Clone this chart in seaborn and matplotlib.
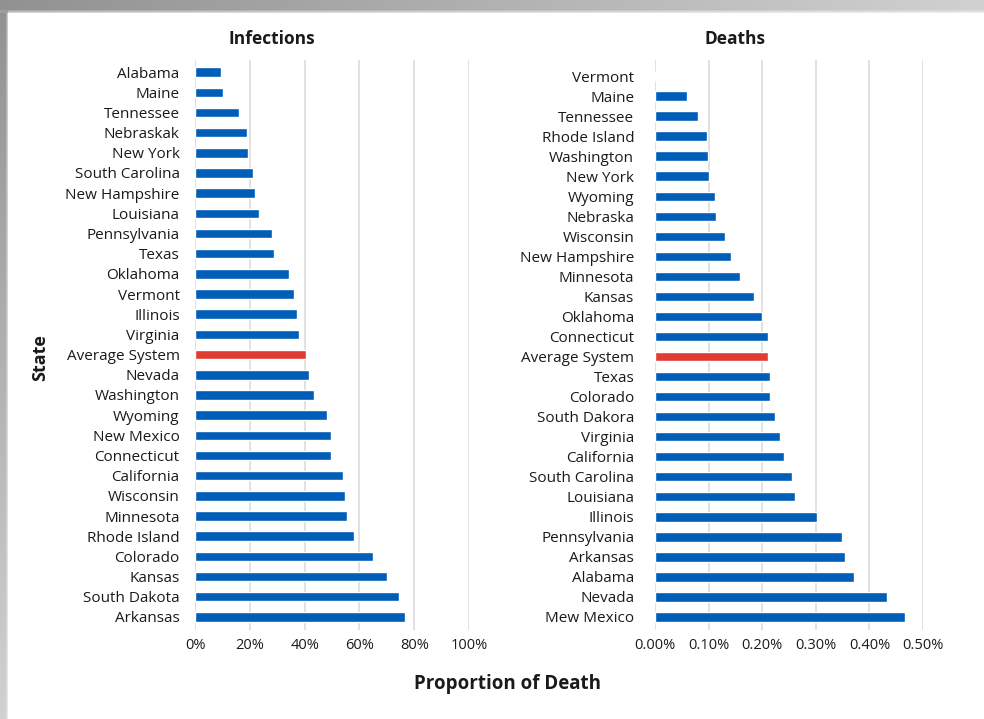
import numpy as np
import pandas as pd
import matplotlib
matplotlib.use("Agg")
import matplotlib.pyplot as plt
import seaborn as sns
from matplotlib.ticker import FuncFormatter

sns.set_theme(style="white")
plt.rcParams["font.family"] = ["Open Sans", "DejaVu Sans"]

# Infection proportion by state (fraction of cases)
inf_states = ["Alabama", "Maine", "Tennessee", "Nebraskak", "New York", "South Carolina",
              "New Hampshire", "Louisiana", "Pennsylvania", "Texas", "Oklahoma", "Vermont",
              "Illinois", "Virginia", "Average System", "Nevada", "Washington", "Wyoming",
              "New Mexico", "Connecticut", "California", "Wisconsin", "Minnesota",
              "Rhode Island", "Colorado", "Kansas", "South Dakota", "Arkansas"]
inf_values = [0.095, 0.102, 0.161, 0.190, 0.194, 0.212, 0.220, 0.234, 0.282, 0.289, 0.344,
              0.362, 0.373, 0.380, 0.406, 0.417, 0.435, 0.483, 0.498, 0.498, 0.541, 0.549,
              0.556, 0.582, 0.651, 0.702, 0.746, 0.768]

# Death proportion by state (fraction of population)
death_states = ["Vermont", "Maine", "Tennessee", "Rhode Island", "Washington", "New York",
                "Wyoming", "Nebraska", "Wisconsin", "New Hampshire", "Minnesota", "Kansas",
                "Oklahoma", "Connecticut", "Average System", "Texas", "Colorado",
                "South Dakora", "Virginia", "California", "South Carolina", "Louisiana",
                "Illinois", "Pennsylvania", "Arkansas", "Alabama", "Nevada", "Mew Mexico"]
death_values = [0.0, 0.00060, 0.00080, 0.00097, 0.00099, 0.00101, 0.00112, 0.00114, 0.00130,
                0.00142, 0.00158, 0.00184, 0.00199, 0.00211, 0.00211, 0.00214, 0.00214,
                0.00224, 0.00233, 0.00240, 0.00255, 0.00261, 0.00302, 0.00348, 0.00354,
                0.00371, 0.00432, 0.00466]

inf_ticks = [0, 0.2, 0.4, 0.6, 0.8, 1.0]
death_ticks = [0, 0.001, 0.002, 0.003, 0.004, 0.005]

BLUE = "#005eb8"
RED = "#e03c31"
GRID = "#dedede"
TEXT = "#1a1a1a"

W, H = 984, 719
fig = plt.figure(figsize=(W / 100, H / 100), dpi=100)

# Card background with a soft grey shadow along the top and left edges
bg = np.ones((H, W, 3))
top_h, left_w = 13, 8
xs = np.linspace(0, 1, W)
top_col = 0.57 + 0.25 * xs
for r in range(top_h):
    fade = 1.0 if r < top_h - 4 else 1.0 - (r - (top_h - 4)) / 5
    bg[r, :, :] = (top_col * fade + 1.0 * (1 - fade))[:, None]
ys = np.linspace(0, 1, H)
left_col = 0.57 + 0.25 * ys
for c in range(left_w):
    fade = 1.0 if c < left_w - 3 else 1.0 - (c - (left_w - 3)) / 4
    vals = left_col * fade + 1.0 * (1 - fade)
    bg[top_h:, c, :] = np.minimum(bg[top_h:, c, :], vals[top_h:, None])
bg[:top_h, :left_w, :] = np.minimum(bg[:top_h, :left_w, :], 0.62)
bax = fig.add_axes([0, 0, 1, 1], zorder=-10)
bax.imshow(bg, aspect="auto", extent=(0, 1, 0, 1), origin="upper")
bax.set_axis_off()


def px_axes(x0, x1, y0, y1):
    return [x0 / W, 1 - y1 / H, (x1 - x0) / W, (y1 - y0) / H]


def draw_panel(ax, states, values, ticks, fmt, ylim, ypad):
    df = pd.DataFrame({"state": states, "value": values,
                       "group": ["avg" if s == "Average System" else "state" for s in states]})
    sns.barplot(data=df, x="value", y="state", hue="group", order=states,
                palette={"state": BLUE, "avg": RED}, dodge=False, legend=False,
                width=0.47, saturation=1, ax=ax, zorder=3)
    ax.set_xlim(ticks[0], ticks[-1])
    ax.set_ylim(*ylim)
    ax.set_xticks(ticks)
    ax.xaxis.set_major_formatter(FuncFormatter(fmt))
    ax.grid(axis="x", color=GRID, linewidth=1.3, zorder=0)
    ax.grid(axis="y", visible=False)
    for s in ax.spines.values():
        s.set_visible(False)
    ax.tick_params(axis="both", length=0, colors=TEXT)
    ax.tick_params(axis="y", labelsize=11, pad=ypad)
    ax.tick_params(axis="x", labelsize=10.5, pad=6)
    ax.set_xlabel("")
    ax.set_ylabel("")
    ax.patch.set_alpha(0)


ax1 = fig.add_axes(px_axes(195, 469, 60, 630))
draw_panel(ax1, inf_states, inf_values, inf_ticks,
           lambda v, p: f"{v * 100:.0f}%", (27.65, -0.6), 11)

ax2 = fig.add_axes(px_axes(655, 923, 60, 630))
draw_panel(ax2, death_states, death_values, death_ticks,
           lambda v, p: f"{v * 100:.2f}%", (27.65, -0.8), 15)

fig.text(272 / W, 1 - 39 / H, "Infections", ha="center", va="center",
         fontsize=12.5, fontweight="bold", color=TEXT)
fig.text(735 / W, 1 - 39 / H, "Deaths", ha="center", va="center",
         fontsize=12.5, fontweight="bold", color=TEXT)
fig.text(40 / W, 1 - 358 / H, "State", ha="center", va="center", rotation=90,
         fontsize=13, fontweight="bold", color=TEXT)
fig.text(507 / W, 1 - 684 / H, "Proportion of Death", ha="center", va="center",
         fontsize=13.5, fontweight="bold", color=TEXT)

fig.savefig("out.png", dpi=100)
